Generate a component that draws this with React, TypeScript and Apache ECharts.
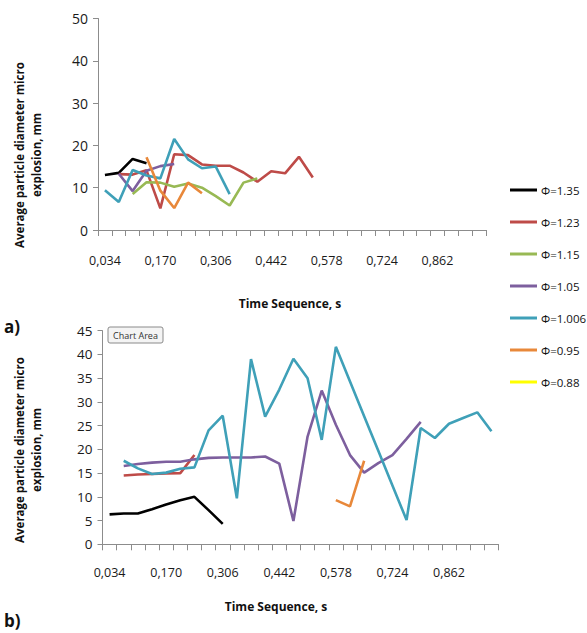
import React, { useEffect, useRef } from "react";
import * as echarts from "echarts";

const categories = [
  "0,034", "0,068", "0,102", "0,136", "0,170", "0,204", "0,238", "0,272",
  "0,306", "0,340", "0,374", "0,408", "0,442", "0,476", "0,510", "0,544",
  "0,578", "0,612", "0,646", "0,680", "0,724", "0,758", "0,792", "0,828",
  "0,862", "0,896", "0,930", "0,964",
];

const seriesNames = ["Φ=1.35", "Φ=1.23", "Φ=1.15", "Φ=1.05", "Φ=1.006", "Φ=0.95", "Φ=0.88"];
const seriesColors = ["#000000", "#be4b48", "#98b954", "#7d5f9e", "#3fa0b8", "#e8883a", "#ffff00"];

// Chart a)
const phi135A = [13, 13.5, 16.8, 15.8];
const phi123A = [null, 13.2, 13.1, 14.1, 5.1, 17.9, 17.7, 15.5, 15.2, 15.2, 13.6, 11.4, 13.9, 13.4, 17.3, 12.4];
const phi115A = [null, null, 8.5, 11.3, 11.2, 10.2, 11, 10, 8, 5.8, 11.2, 12.2];
const phi105A = [null, 13.3, 9.2, 14, 15.1, 15.6];
const phi1006A = [9.4, 6.6, 14.2, 12.9, 12.2, 21.5, 16.7, 14.6, 15, 8.5];
const phi095A = [null, null, null, 17.2, 9.3, 5.2, 11.2, 8.7];
const phi088A: (number | null)[] = [];

// Chart b)
const phi135B = [6.3, 6.5, 6.5, 7.4, 8.4, 9.3, 10, 7.2, 4.3];
const phi123B = [null, 14.5, 14.7, 14.8, 14.9, 15, 18.8];
const phi115B: (number | null)[] = [];
const phi105B = [null, 16.5, 16.9, 17.2, 17.4, 17.4, 17.9, 18.2, 18.3, 18.3, 18.3, 18.5, 17, 4.9, 22.7, 32.4, 25.2, 18.8, 15.1, 17.1, 18.8, 22.2, 25.8];
const phi1006B = [null, 17.6, 16, 14.8, 15.1, 15.9, 16.2, 24, 27.1, 9.7, 39, 26.9, 32.6, 39.1, 35, 22, 41.6, 34.3, 27, 19.7, 12.4, 5.1, 24.5, 22.4, 25.4, 26.6, 27.8, 23.8];
const phi095B = [null, null, null, null, null, null, null, null, null, null, null, null, null, null, null, null, 9.3, 8.0, 17.6];
const phi088B: (number | null)[] = [];

const yTicksA = { min: 0, max: 50, interval: 10 };
const yTicksB = { min: 0, max: 45, interval: 5 };

const FONT = "'Open Sans', sans-serif";

export default function App() {
  const ref = useRef<HTMLDivElement>(null);
  useEffect(() => {
    if (!ref.current) return;
    const chart = echarts.init(ref.current, undefined, { renderer: "svg" });
    const dataA = [phi135A, phi123A, phi115A, phi105A, phi1006A, phi095A, phi088A];
    const dataB = [phi135B, phi123B, phi115B, phi105B, phi1006B, phi095B, phi088B];

    const axisLine = { show: true, lineStyle: { color: "#8c8c8c", width: 1 } };
    const xAxisBase = (gridIndex: number, margin: number) => ({
      type: "category",
      gridIndex,
      data: categories,
      boundaryGap: true,
      axisLine,
      axisTick: { show: true, interval: 0, length: 6, lineStyle: { color: "#8c8c8c" } },
      axisLabel: { interval: 3, margin, color: "#1a1a1a", fontSize: 12.5, fontFamily: FONT },
      splitLine: { show: false },
    });
    const yAxisBase = (gridIndex: number, t: any, fs: number) => ({
      type: "value",
      gridIndex,
      min: t.min,
      max: t.max,
      interval: t.interval,
      axisLine,
      axisTick: { show: true, length: 5, lineStyle: { color: "#8c8c8c" } },
      axisLabel: { margin: 10, color: "#1a1a1a", fontSize: fs, fontFamily: FONT },
      splitLine: { show: false },
    });

    const series: any[] = [];
    seriesNames.forEach((name, i) => {
      series.push({
        name, type: "line", xAxisIndex: 0, yAxisIndex: 0, data: dataA[i],
        symbol: "none", lineStyle: { color: seriesColors[i], width: 2.6 },
        itemStyle: { color: seriesColors[i] },
      });
      series.push({
        name, type: "line", xAxisIndex: 1, yAxisIndex: 1, data: dataB[i],
        symbol: "none", lineStyle: { color: seriesColors[i], width: 2.6 },
        itemStyle: { color: seriesColors[i] },
      });
    });

    const titleStyle = { fill: "#111", font: `bold 11.5px ${FONT}`, textAlign: "center", textVerticalAlign: "middle", lineHeight: 17 };

    chart.setOption({
      animation: false,
      backgroundColor: "#ffffff",
      grid: [
        { left: 98, top: 18.5, width: 388, height: 211.5 },
        { left: 102.5, top: 330.7, width: 396, height: 213.6 },
      ],
      xAxis: [xAxisBase(0, 24), xAxisBase(1, 22)],
      yAxis: [yAxisBase(0, yTicksA, 14), yAxisBase(1, yTicksB, 13.5)],
      legend: {
        orient: "vertical",
        left: 505,
        top: 177,
        data: seriesNames,
        icon: "rect",
        itemWidth: 27,
        itemHeight: 3,
        itemGap: 16,
        textStyle: { color: "#111", fontSize: 11.5, fontFamily: FONT, lineHeight: 16, padding: [0, 0, 0, -1] },
      },
      series,
      graphic: [
        { type: "text", x: 28, y: 155, rotation: Math.PI / 2,
          style: { ...titleStyle, text: "Average particle diameter micro\nexplosion, mm" } },
        { type: "text", x: 28, y: 450, rotation: Math.PI / 2,
          style: { ...titleStyle, text: "Average particle diameter micro\nexplosion, mm" } },
        { type: "text", x: 290, y: 303, style: { fill: "#111", font: `bold 12px ${FONT}`, text: "Time Sequence, s", textAlign: "center", textVerticalAlign: "middle" } },
        { type: "text", x: 276, y: 606, style: { fill: "#111", font: `bold 12px ${FONT}`, text: "Time Sequence, s", textAlign: "center", textVerticalAlign: "middle" } },
        { type: "text", x: 4, y: 326, style: { fill: "#111", font: `bold 17px ${FONT}`, text: "a)", textVerticalAlign: "middle" } },
        { type: "text", x: 4, y: 620, style: { fill: "#111", font: `bold 17px ${FONT}`, text: "b)", textVerticalAlign: "middle" } },
        { type: "rect", shape: { x: 108, y: 327, width: 55, height: 16, r: 2 },
          style: { fill: "#f4f4f4", stroke: "#8a8a8a", lineWidth: 1 } },
        { type: "text", x: 135.5, y: 335, style: { fill: "#333", font: `9px ${FONT}`, text: "Chart Area", textAlign: "center", textVerticalAlign: "middle" } },
      ],
    });
    return () => chart.dispose();
  }, []);
  return <div ref={ref} style={{ position: "absolute", left: 0, top: 0, width: 587, height: 633 }} />;
}
